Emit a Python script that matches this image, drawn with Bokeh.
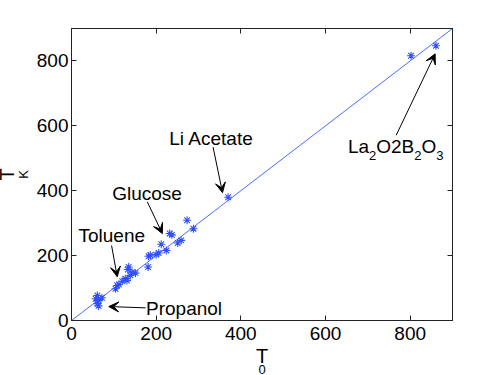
from bokeh.plotting import figure
from bokeh.models import Range1d, LinearAxis, FixedTicker, Label, Arrow, VeeHead, Title
from bokeh.embed import file_html
from bokeh.resources import INLINE

# ---- data ----
T0 = [57, 61, 64, 72, 61, 64, 104, 108, 112, 120, 127, 131, 135, 139, 143, 151, 133,
      181, 186, 182, 200, 206, 212, 224, 232, 237, 251, 259, 273, 288, 370, 802, 861]
TK = [67, 77, 62, 70, 52, 45, 98, 108, 111, 121, 129, 123, 165, 139, 149, 146, 157,
      165, 201, 198, 203, 208, 235, 216, 268, 264, 239, 247, 309, 283, 380, 816, 847]
diag = [0, 900]
ticks = [0, 200, 400, 600, 800]

FONT = "Liberation Sans"
BLUE = "#3050ff"

p = figure(frame_width=381, frame_height=292, output_backend="svg", toolbar_location=None,
           x_range=Range1d(0, 900), y_range=Range1d(0, 900),
           min_border_left=71, min_border_right=45, min_border_top=28, min_border_bottom=54,
           x_axis_location=None, y_axis_location=None)
p.grid.visible = False
p.outline_line_color = "#222222"
p.background_fill_color = "white"
p.border_fill_color = "white"

def make_axis(show_labels, standoff):
    ax = LinearAxis(ticker=FixedTicker(ticks=ticks))
    ax.major_tick_in = 5
    ax.major_tick_out = 0
    ax.minor_tick_line_color = None
    ax.axis_line_color = "#222222"
    ax.major_tick_line_color = "#222222"
    ax.major_label_text_font = FONT
    ax.major_label_text_font_size = "19px"
    ax.major_label_text_color = "black" if show_labels else None
    ax.major_label_standoff = standoff
    return ax

p.add_layout(make_axis(True, 6), "below")
p.add_layout(make_axis(True, 3), "left")
p.add_layout(make_axis(False, 0), "above")
p.add_layout(make_axis(False, 0), "right")

p.line(diag, diag, line_color="#4d6bff", line_width=1)
p.scatter(T0, TK, marker="asterisk", size=8, line_color=BLUE, line_width=1.1)

def txt(x, y, s, size=19, dx=0, dy=0):
    p.add_layout(Label(x=x, y=y, text=s, x_offset=dx, y_offset=dy + 6,
                       text_font=FONT, text_font_size=f"{size}px", text_color="black",
                       text_align="left", text_baseline="alphabetic", level="overlay"))

def arrow(x0, y0, x1, y1):
    p.add_layout(Arrow(end=VeeHead(size=10, fill_color="black", line_color="black"),
                       x_start=x0, y_start=y0, x_end=x1, y_end=y1,
                       line_color="black", line_width=1))

# annotations
txt(176, 18.5, "Propanol")
arrow(175, 39, 88, 43)
txt(16.5, 244, "Toluene")
arrow(94.7, 231, 108, 135)
txt(96, 373, "Glucose")
arrow(179, 366, 214.6, 268)
txt(231, 542, "Li Acetate")
arrow(334.5, 534, 356.7, 394)
txt(653, 517, "La")
txt(653, 517, "2", 13, dx=21.1, dy=-8.5)
txt(653, 517, "O2B", dx=28.3)
txt(653, 517, "2", 13, dx=66.3, dy=-8.5)
txt(653, 517, "O", dx=73.5)
txt(653, 517, "3", 13, dx=88.3, dy=-8.5)
arrow(767, 571, 859, 822)

# axis labels (T with subscript) as side titles
def side_title(s, size, side, offset, standoff):
    p.add_layout(Title(text=s, align="center", offset=offset, standoff=standoff,
                       text_font=FONT, text_font_size=f"{size}px",
                       text_font_style="normal", text_color="black"), side)

side_title("T", 20, "below", -1, 1)
side_title("0", 13, "below", 4.6, -12.6)
side_title("K", 13, "left", 0, 4.7)
side_title("T", 20, "left", -11, -13)

open("out.html", "w").write(file_html(p, INLINE))
